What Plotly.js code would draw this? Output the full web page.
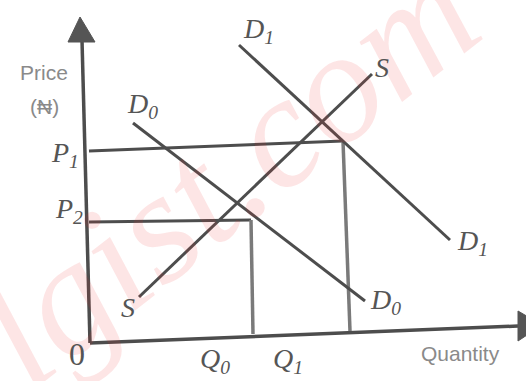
<!DOCTYPE html>
<html>
<head>
<meta charset="utf-8">
<script src="https://cdn.plot.ly/plotly-3.0.1.min.js"></script>
<style>html,body{margin:0;padding:0;background:#fff;}#chart{width:526px;height:381px;}</style>
</head>
<body>
<div id="chart"></div>
<script>
// Diagram data (quantity units on x, price units on y)
const yAxisQ = [0, -8];            const yAxisP = [-5, 298];
const yArrowQ = [-22, -10, 5, -22]; const yArrowP = [296, 321, 296, 296];
const xAxisQ = [0, 428];           const xAxisP = [-5, 12];
const xArrowQ = [428, 452, 428, 428]; const xArrowP = [27, 13, -3, 27];
const supplyQ = [49, 282];         const supplyP = [41, 264];
const demand0Q = [43, 275];        const demand0P = [215, 37];
const demand1Q = [149, 360];       const demand1P = [293, 98];
const p1LineQ = [-1, 253];         const p1LineP = [187, 197];
const q1LineQ = [253, 260];        const q1LineP = [197, 7];
const p2LineQ = [-1, 161];         const p2LineP = [116, 118];
const q0LineQ = [161, 163];        const q0LineP = [118, 4];

const labelText = ["Price", "(₦)", "<i>P<sub>1</sub></i>", "<i>P<sub>2</sub></i>",
  "<i>D<sub>0</sub></i>", "<i>D<sub>1</sub></i>", "<i>S</i>", "<i>D<sub>1</sub></i>",
  "<i>D<sub>0</sub></i>", "<i>S</i>", "0", "<i>Q<sub>0</sub></i>", "<i>Q<sub>1</sub></i>", "Quantity"];
const labelQ = [-46, -46, -25, -21, 52, 168, 292, 382, 295, 38, -13, 125, 198, 370];
const labelP = [266, 232, 184, 128, 233, 308, 271, 96, 37, 31, -16, -22, -22, -15];

const dark = "#4d4d4d";
const grey = "#7a7a7a";
function seg(x, y, color, w) {
  return {x: x, y: y, mode: "lines", type: "scatter", hoverinfo: "skip",
          line: {color: color, width: w}, showlegend: false};
}
function tri(x, y) {
  return {x: x, y: y, mode: "lines", type: "scatter", fill: "toself", fillcolor: "#555",
          line: {color: "#555", width: 1}, hoverinfo: "skip", showlegend: false};
}
const traces = [
  seg(yAxisQ, yAxisP, dark, 3.5),
  seg(xAxisQ, xAxisP, dark, 3.5),
  tri(yArrowQ, yArrowP),
  tri(xArrowQ, xArrowP),
  seg(p1LineQ, p1LineP, dark, 3),
  seg(q1LineQ, q1LineP, grey, 3.5),
  seg(p2LineQ, p2LineP, dark, 3),
  seg(q0LineQ, q0LineP, grey, 3.5),
  seg(supplyQ, supplyP, dark, 3),
  seg(demand0Q, demand0P, dark, 3),
  seg(demand1Q, demand1P, dark, 3)
];

const textLabels = labelText.map((t, i) => {
  const sans = (t === "Price" || t === "(₦)" || t === "Quantity");
  const size = t === "0" ? 32 : 28;
  return {
    x: labelQ[i], y: labelP[i], xref: "x", yref: "y", text: t, showarrow: false,
    xanchor: "center", yanchor: "middle",
    font: sans ? {family: "Liberation Sans, Arial, sans-serif", size: 21, color: "#8a8a8a"}
               : {family: "Liberation Serif, Times New Roman, serif", size: size, color: "#555"}
  };
});
const watermark = {
  x: 0.43, y: 0.55, xref: "paper", yref: "paper", text: "<i>lgist.com</i>", showarrow: false,
  textangle: -38, xanchor: "center", yanchor: "middle",
  font: {family: "Liberation Serif, serif", size: 160, color: "rgba(235,40,40,0.12)"}
};

const layout = {
  width: 526, height: 381,
  margin: {l: 0, r: 0, t: 0, b: 0},
  paper_bgcolor: "#ffffff", plot_bgcolor: "#ffffff",
  xaxis: {range: [-90, 436], visible: false, fixedrange: true},
  yaxis: {range: [-43, 338], visible: false, fixedrange: true},
  annotations: [watermark].concat(textLabels),
  showlegend: false
};
Plotly.newPlot("chart", traces, layout, {displayModeBar: false, staticPlot: true});
</script>
</body>
</html>
